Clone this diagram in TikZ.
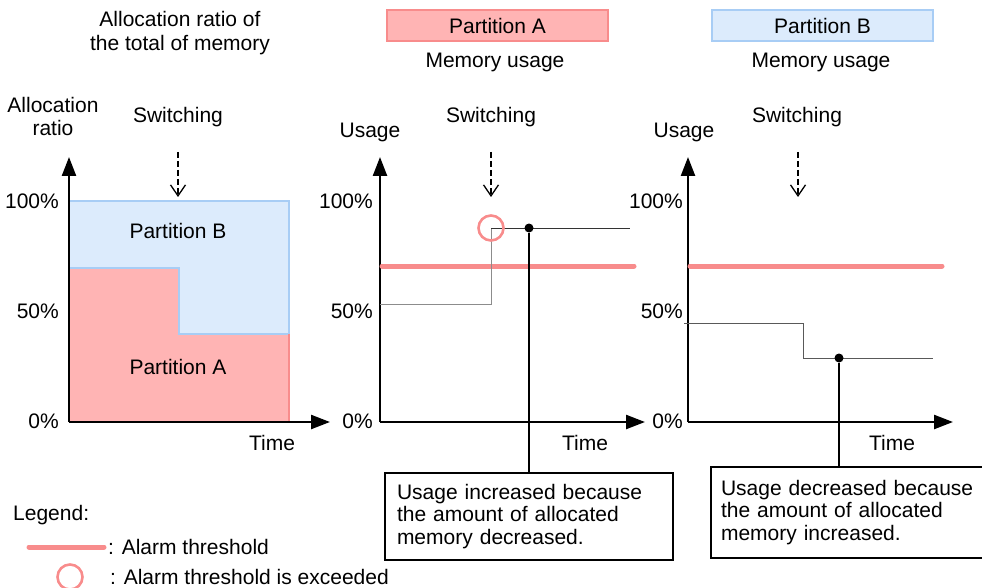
\documentclass[tikz,border=0pt]{standalone}
\usepackage{fontspec}
\setmainfont{Liberation Sans}
\usetikzlibrary{arrows.meta}
\hyphenpenalty=10000
\definecolor{pinkfill}{RGB}{255,180,180}
\definecolor{pinkline}{RGB}{248,140,140}
\definecolor{bluefill}{RGB}{220,235,252}
\definecolor{blueline}{RGB}{168,205,245}
\tikzstyle{axis}=[draw,line width=2.4pt,-{Triangle[length=19pt,width=14pt]}]
\tikzstyle{switch}=[draw,line width=1.3pt,dash pattern=on 6pt off 3pt,-{Straight Barb[length=11pt,width=15pt]}]
\tikzstyle{txt}=[inner sep=0pt,align=center]
\tikzstyle{threshold}=[draw=pinkline,line width=5pt,line cap=round]
\tikzstyle{usage}=[draw,line width=0.9pt]
\tikzstyle{dot}=[circle,fill=black,minimum size=9pt,inner sep=0pt]
\tikzstyle{exceed}=[circle,draw=pinkline,line width=2.6pt,minimum size=25pt,inner sep=0pt]
\tikzstyle{note}=[draw,line width=1.6pt,align=left,inner sep=0pt,font=\fontsize{21}{22.5}\selectfont]
\tikzstyle{header}=[draw,line width=1.8pt,minimum height=31pt,minimum width=221pt,inner sep=0pt]

\begin{document}
\begin{tikzpicture}[x=1pt,y=-1pt,font=\fontsize{21}{23}\selectfont]
      \useasboundingbox (0,0) rectangle (982,588);
      % allocation ratio
      \node[txt,font=\fontsize{21}{24}\selectfont] (title) at (180,33) {Allocation ratio of\\the total of memory};
      \node[txt] (ratio) at (53,116) {Allocation\\ratio};
      \node[txt] (sw1) at (178,117) {Switching};
      \fill[bluefill] (69,201) rectangle (289,422);
      \fill[pinkfill] (69,268) -- (179,268) -- (179,334) -- (289,334) -- (289,422) -- (69,422) -- cycle;
      \draw[blueline,line width=2pt] (69,268) -- (179,268) -- (179,334) -- (289,334) -- (289,201) -- (69,201);
      \draw[pinkline,line width=2pt] (289,334) -- (289,422);
      \node[txt] (partb) at (178,231) {Partition B};
      \node[txt] (parta) at (178,367) {Partition A};
      \coordinate (o1) at (69,422);
      \coordinate (y1) at (69,157);
      \coordinate (x1) at (330,422);
      \draw[axis] (o1) -- (y1);
      \draw[axis] (o1) -- (x1);
      \node[txt,anchor=east] (p100a) at (59,201) {100\%};
      \node[txt,anchor=east] (p50a) at (59,311) {50\%};
      \node[txt,anchor=east] (p0a) at (59,421) {0\%};
      \node[txt] (time1) at (272,443) {Time};
      \coordinate (s1) at (178,152);
      \coordinate (t1) at (178,197);
      \draw[switch] (s1) -- (t1);

      % partition A
      \node[header,draw=pinkline,fill=pinkfill] (hdra) at (497.5,25.5) {Partition A};
      \node[txt] (mema) at (495,62) {Memory usage};
      \node[txt] (usea) at (370,132) {Usage};
      \node[txt] (sw2) at (491,117) {Switching};
      \coordinate (s2) at (491,152);
      \coordinate (t2) at (491,197);
      \draw[switch] (s2) -- (t2);
      \coordinate (o2) at (380,422);
      \coordinate (y2) at (380,157);
      \coordinate (x2) at (645,422);
      \draw[axis] (o2) -- (y2);
      \draw[axis] (o2) -- (x2);
      \node[txt,anchor=east] (p100b) at (373,201) {100\%};
      \node[txt,anchor=east] (p50b) at (373,311) {50\%};
      \node[txt,anchor=east] (p0b) at (373,421) {0\%};
      \node[txt] (time2) at (585,443) {Time};
      \draw[threshold] (382,266) -- (634,266);
      \draw[usage,black!45] (380,304) -- (491,304) -- (491,228);
      \draw[usage,black!80] (491,228) -- (630,228);
      \node[exceed] (over) at (491,228) {};
      \node[dot] (dota) at (529,228) {};
      \node[note,minimum width=288pt,minimum height=87pt,text width=264pt] (notea) at (529,516.5)
        {Usage increased because\\the amount of allocated\\memory decreased.};
      \draw[line width=2pt] (dota) -- (notea);

      % partition B
      \node[header,draw=blueline,fill=bluefill] (hdrb) at (822.5,25.5) {Partition B};
      \node[txt] (memb) at (821,62) {Memory usage};
      \node[txt] (useb) at (684,132) {Usage};
      \node[txt] (sw3) at (797,117) {Switching};
      \coordinate (s3) at (798,152);
      \coordinate (t3) at (798,197);
      \draw[switch] (s3) -- (t3);
      \coordinate (o3) at (688,422);
      \coordinate (y3) at (688,157);
      \coordinate (x3) at (953,422);
      \draw[axis] (o3) -- (y3);
      \draw[axis] (o3) -- (x3);
      \node[txt,anchor=east] (p100c) at (683,201) {100\%};
      \node[txt,anchor=east] (p50c) at (683,311) {50\%};
      \node[txt,anchor=east] (p0c) at (683,421) {0\%};
      \node[txt] (time3) at (892,443) {Time};
      \draw[threshold] (690,266) -- (942,266);
      \draw[usage,black!65] (684,323) -- (803,323) -- (803,358) -- (933,358);
      \node[dot] (dotb) at (839,358) {};
      \node[note,minimum width=276pt,minimum height=91pt,text width=256pt] (noteb) at (849,512.5)
        {Usage decreased because\\the amount of allocated\\memory increased.};
      \draw[line width=2pt] (dotb) -- (dotb |- noteb.north);

      % legend
      \node[txt,anchor=west] (legend) at (13,515) {Legend:};
      \draw[threshold] (29,547) -- (104,547);
      \node[txt,anchor=west] (lgthr) at (108,547) {: Alarm threshold};
      \node[exceed] (lgcirc) at (70,577) {};
      \node[txt,anchor=west] (lgexc) at (110,577) {: Alarm threshold is exceeded};
    \end{tikzpicture}
\end{document}
